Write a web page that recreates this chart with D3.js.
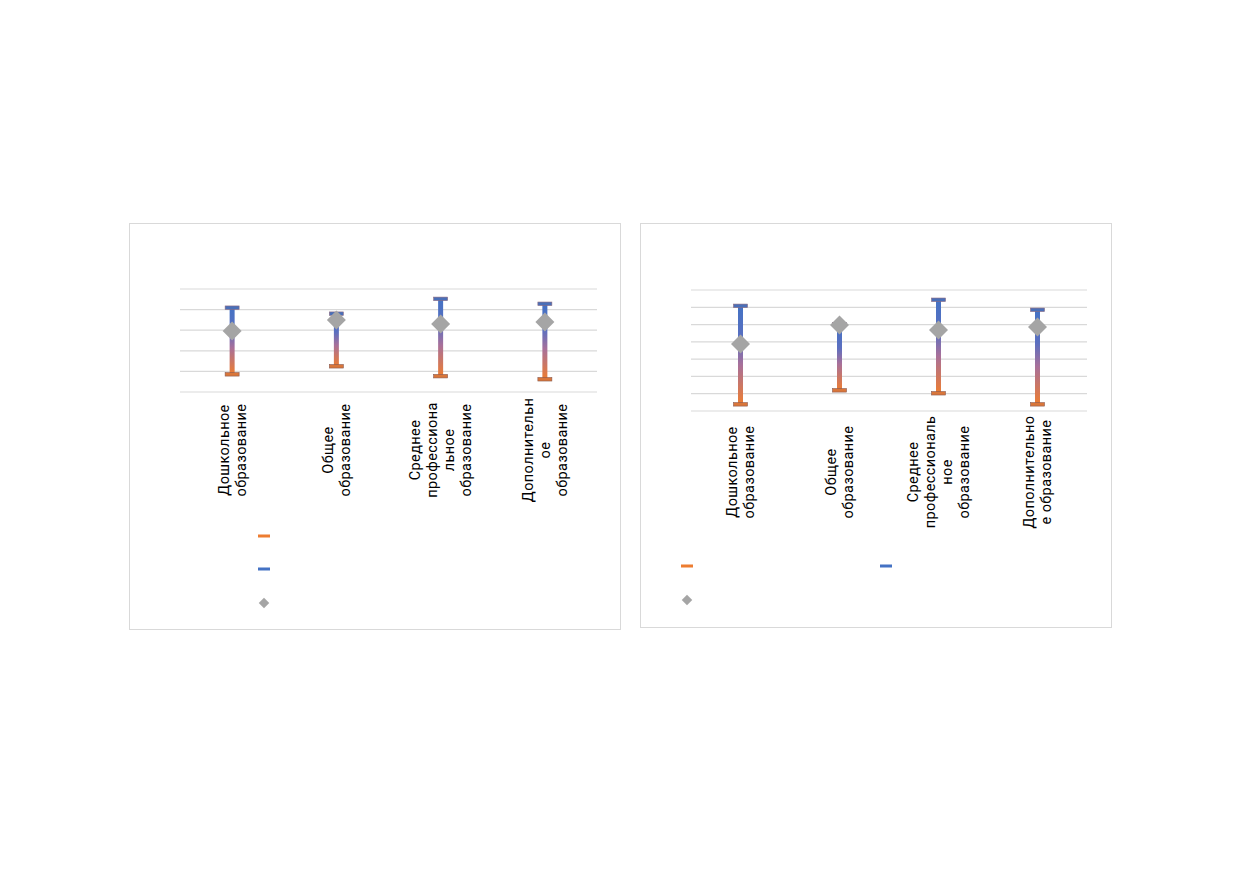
<!DOCTYPE html>
<html><head><meta charset="utf-8">
<script src="https://cdn.jsdelivr.net/npm/d3@7"></script>
<style>body{margin:0;background:#fff}</style>
</head><body>
<script>
// категории (подписи оси, уже разбиты на строки как в оригинале)
const labels1 = [["Дошкольное", "образование"], ["Общее", "образование"], ["Среднее", "профессиона", "льное", "образование"], ["Дополнительн", "ое", "образование"]];
const labels2 = [["Дошкольное", "образование"], ["Общее", "образование"], ["Среднее", "профессиональ", "ное", "образование"], ["Дополнительно", "е образование"]];
// значения: минимум, максимум, среднее
const min1 = [0.87, 1.26, 0.78, 0.63];
const max1 = [4.08, 3.79, 4.51, 4.27];
const mean1 = [2.96, 3.5, 3.3, 3.4];
const min2 = [0.4, 1.21, 1.04, 0.4];
const max2 = [6.07, 5.0, 6.42, 5.84];
const mean2 = [3.87, 4.97, 4.68, 4.86];

const W = 1239, H = 872;
const svg = d3.select('body').append('svg').attr('width', W).attr('height', H);
const defs = svg.append('defs');
const grad = defs.append('linearGradient').attr('id', 'g').attr('x1', 0).attr('y1', 0).attr('x2', 0).attr('y2', 1);
grad.append('stop').attr('offset', '0%').attr('stop-color', '#4472C4');
grad.append('stop').attr('offset', '35%').attr('stop-color', '#5b6fc0');
grad.append('stop').attr('offset', '60%').attr('stop-color', '#a8709a');
grad.append('stop').attr('offset', '100%').attr('stop-color', '#ED7D31');

function chart(o) {
    const g = svg.append('g');
    g.append('rect').attr('x', o.box[0] + 0.5).attr('y', o.box[1] + 0.5)
        .attr('width', o.box[2]).attr('height', o.box[3])
        .attr('fill', '#fff').attr('stroke', '#d9d9d9');
    const x = d3.scaleBand().domain(d3.range(o.labels.length)).range([o.x0, o.x1]);
    const y = d3.scaleLinear().domain([0, o.ymax]).range([o.y0, o.y1]);
    g.append('g').selectAll('line').data(d3.range(0, o.ymax + 1)).join('line')
        .attr('x1', o.x0).attr('x2', o.x1)
        .attr('y1', d => y(d)).attr('y2', d => y(d))
        .attr('stroke', '#d9d9d9').attr('stroke-width', 1.2);
    const idx = d3.range(o.labels.length);
    const cx = i => x(i) + x.bandwidth() / 2;
    g.append('g').selectAll('rect').data(idx).join('rect')
        .attr('x', i => cx(i) - 2.5).attr('width', 5)
        .attr('y', i => y(o.max[i])).attr('height', i => y(o.min[i]) - y(o.max[i]))
        .attr('fill', 'url(#g)');
    g.append('g').selectAll('rect').data(idx).join('rect')
        .attr('x', i => cx(i) - 7).attr('width', 14).attr('y', i => y(o.max[i]) - 2).attr('height', 3.5)
        .attr('fill', '#4a6fb8').attr('stroke', '#8a6a80').attr('stroke-width', 0.6);
    g.append('g').selectAll('rect').data(idx).join('rect')
        .attr('x', i => cx(i) - 7).attr('width', 14).attr('y', i => y(o.min[i]) - 1.5).attr('height', 3.5)
        .attr('fill', '#d9763a').attr('stroke', '#8a5a50').attr('stroke-width', 0.6);
    const sym = d3.symbol().type(d3.symbolDiamond2).size(230);
    g.append('g').selectAll('path').data(idx).join('path')
        .attr('d', sym).attr('fill', '#A5A5A5')
        .attr('transform', i => 'translate(' + cx(i) + ',' + y(o.mean[i]) + ')');
    // подписи категорий
    idx.forEach(i => {
        const lines = o.labels[i];
        const n = lines.length;
        lines.forEach((t, k) => {
            const lx = cx(i) + (k - (n - 1) / 2) * 17 + 5;
            g.append('text').text(t)
                .attr('transform', 'translate(' + lx + ',' + o.ly + ') rotate(-90)')
                .attr('text-anchor', 'middle')
                .attr('font-family', 'Roboto, "Liberation Sans", sans-serif')
                .attr('font-size', 14.5).attr('letter-spacing', 0.4).attr('fill', '#000');
        });
    });
    // легенда без подписей
    o.legend.forEach(l => {
        if (l.t === 'd') {
            g.append('path').attr('d', d3.symbol().type(d3.symbolDiamond2).size(70))
                .attr('fill', '#A5A5A5').attr('transform', 'translate(' + l.x + ',' + l.y + ')');
        } else {
            g.append('rect').attr('x', l.x - 6).attr('y', l.y - 1.5).attr('width', 12).attr('height', 3)
                .attr('fill', l.t === 'o' ? '#ED7D31' : '#4472C4');
        }
    });
}

chart({box: [129, 223, 491, 406], x0: 180, x1: 597, y0: 392, y1: 289, ymax: 5,
    labels: labels1, min: min1, max: max1, mean: mean1, ly: 450,
    legend: [{t: 'o', x: 264, y: 536}, {t: 'b', x: 264, y: 569}, {t: 'd', x: 264, y: 603}]});
chart({box: [640, 223, 471, 404], x0: 691, x1: 1087, y0: 411, y1: 290, ymax: 7,
    labels: labels2, min: min2, max: max2, mean: mean2, ly: 472,
    legend: [{t: 'o', x: 687, y: 566}, {t: 'b', x: 886, y: 566}, {t: 'd', x: 687, y: 600}]});
</script>
</body></html>
